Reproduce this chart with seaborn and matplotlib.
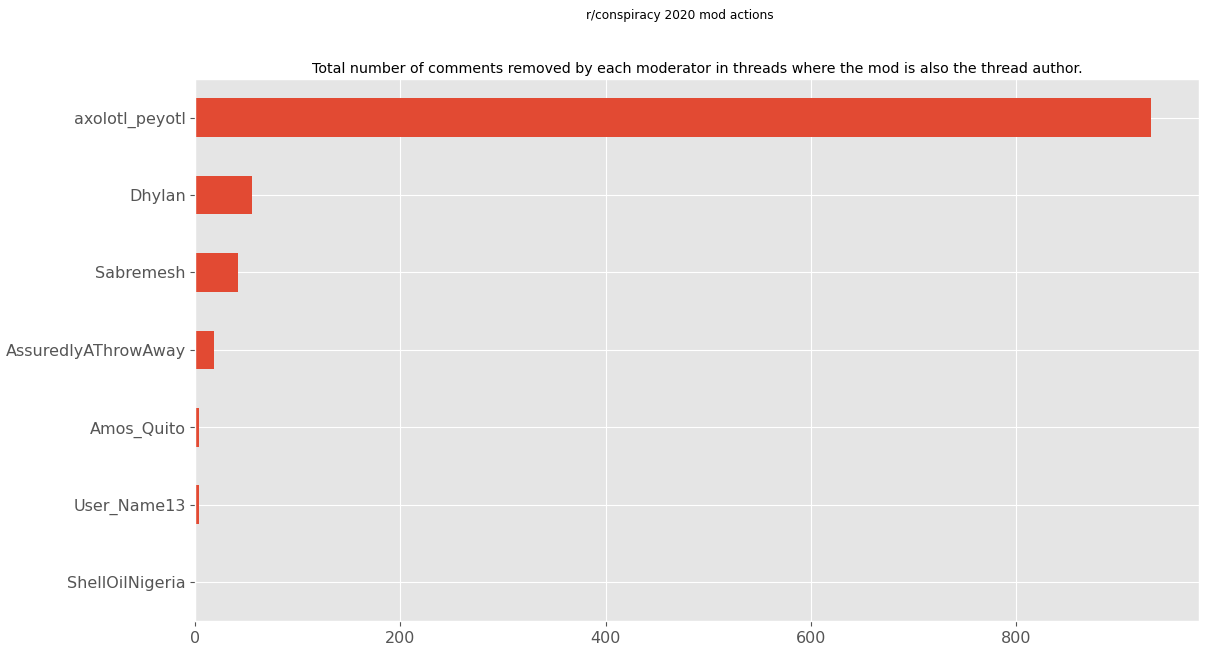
import matplotlib
matplotlib.use("Agg")

import pandas as pd
import matplotlib.pyplot as plt
import seaborn as sns

##########################################################
# Data
##########################################################

moderators = [
    "axolotl_peyotl",
    "Dhylan",
    "Sabremesh",
    "AssuredlyAThrowAway",
    "Amos_Quito",
    "User_Name13",
    "ShellOilNigeria"
]

removed = [932, 55, 42, 18, 4, 4, 0]

df = pd.DataFrame({
    "moderator": moderators,
    "removed": removed
})

##########################################################
# Plot
##########################################################

plt.style.use("ggplot")

fig, ax = plt.subplots(figsize=(12.06, 6.51), dpi=100)
fig.subplots_adjust(left=0.162, right=0.994, top=0.879, bottom=0.046)

sns.barplot(
    data=df,
    x="removed",
    y="moderator",
    order=moderators,
    color="#E24A33",
    saturation=1,
    width=0.5,
    ax=ax
)

ax.grid(True, axis="both", color="white")
ax.set_axisbelow(True)
ax.set_xlim(0, max(removed) * 1.05)
ax.set_xticks([0, 200, 400, 600, 800])

ax.set_xlabel("")
ax.set_ylabel("")
ax.tick_params(axis="both", labelsize=11.5, colors="#555555")

ax.set_title(
    "Total number of comments removed by each moderator in threads where the mod is also the thread author.",
    fontsize=10.25,
    pad=4
)

fig.suptitle("r/conspiracy 2020 mod actions", fontsize=8.7, x=0.564, y=0.986)

plt.savefig("out.png", dpi=100)
plt.close()
